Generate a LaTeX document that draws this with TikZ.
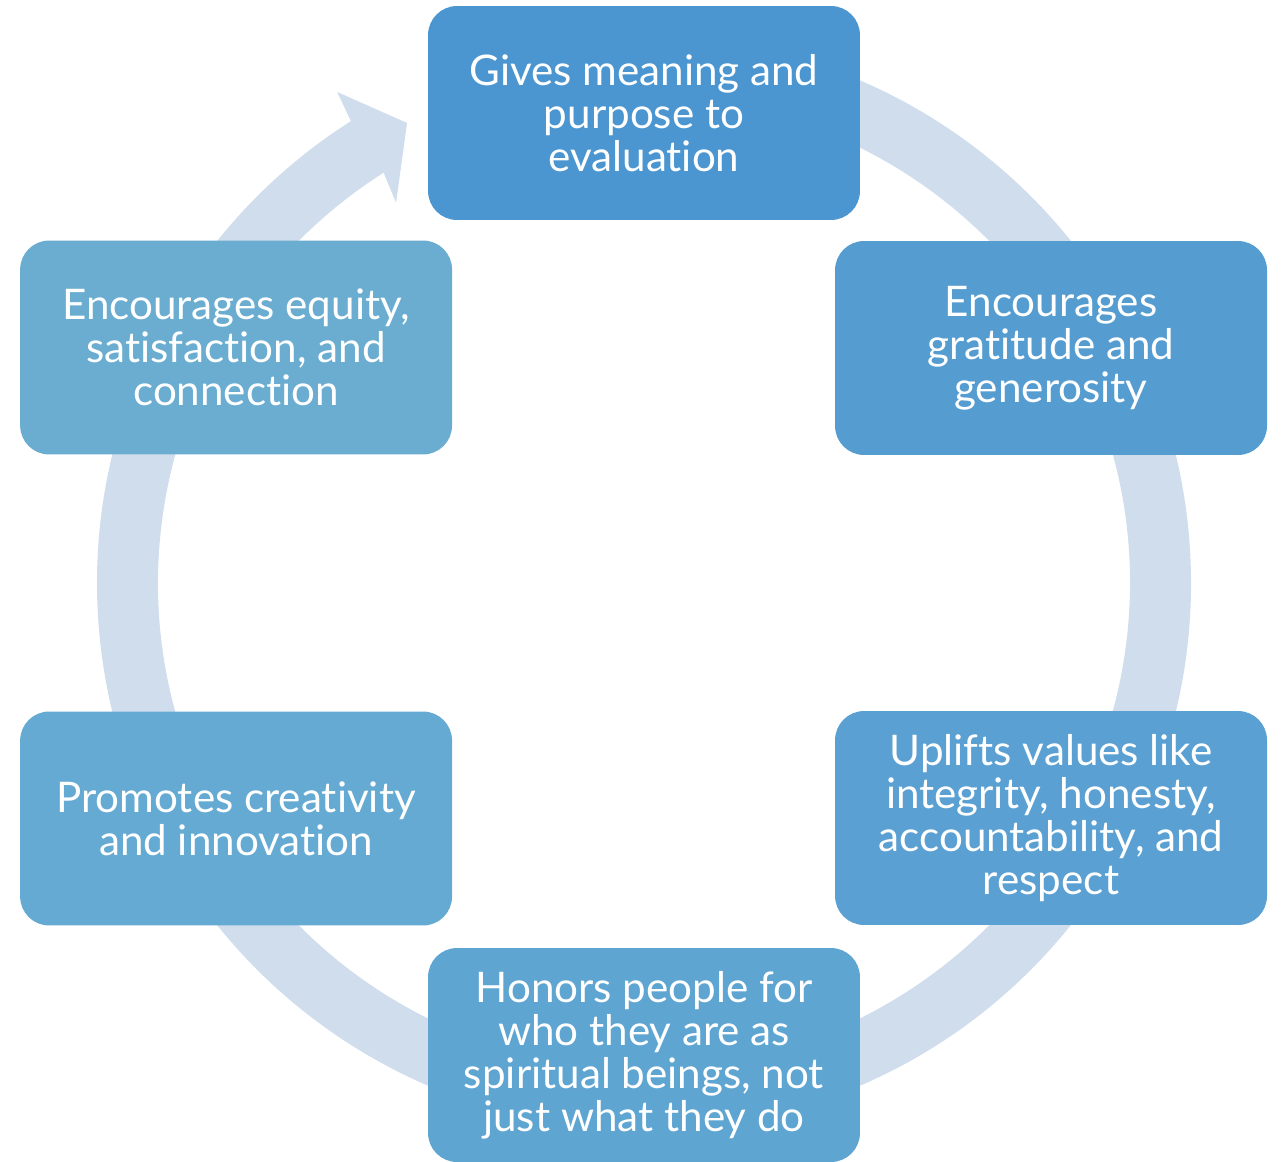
\documentclass[tikz,border=0pt]{standalone}
\usepackage{fontspec}
\setmainfont{Lato}[Ligatures={NoCommon}]
\definecolor{ringblue}{RGB}{208,221,237}
\definecolor{stepA}{RGB}{75,150,208}
\definecolor{stepB}{RGB}{85,156,209}
\definecolor{stepC}{RGB}{90,160,210}
\definecolor{stepD}{RGB}{95,165,210}
\definecolor{stepE}{RGB}{101,170,211}
\definecolor{stepF}{RGB}{106,173,208}

\begin{document}
\begin{tikzpicture}[
        x=0.02cm, y=0.02cm,
        stage/.style={rectangle, rounded corners=0.58cm, minimum width=8.64cm, minimum height=4.28cm, text=white, align=center, font=\fontsize{24}{24.5}\selectfont, inner sep=0pt}
    ]
        \useasboundingbox (-644,-578) rectangle (639,583);

        % Ring with arrow head
        \fill[ringblue] (95:547) arc[start angle=95, end angle=-237.6, radius=547]
            -- (122:579) -- (117.25:517.5) -- (123.1:454) -- (122.4:486)
            arc[start angle=-237.6, end angle=95, radius=486] -- cycle;

        % Stages round the cycle
        \node[stage, fill=stepA] (meaning) at (90:470) {Gives meaning and\\purpose to\\evaluation};
        \node[stage, fill=stepB] (gratitude) at (30:470) {Encourages\\gratitude and\\generosity};
        \node[stage, fill=stepC] (values) at (-30:470) {Uplifts values like\\integrity, honesty,\\accountability, and\\respect};
        \node[stage, fill=stepD] (honors) at (-90:472) {Honors people for\\who they are as\\spiritual beings, not\\just what they do};
        \node[stage, fill=stepE] (creativity) at (210:471) {Promotes creativity\\and innovation};
        \node[stage, fill=stepF] (equity) at (150:471) {Encourages equity,\\satisfaction, and\\connection};

    \end{tikzpicture}
\end{document}
